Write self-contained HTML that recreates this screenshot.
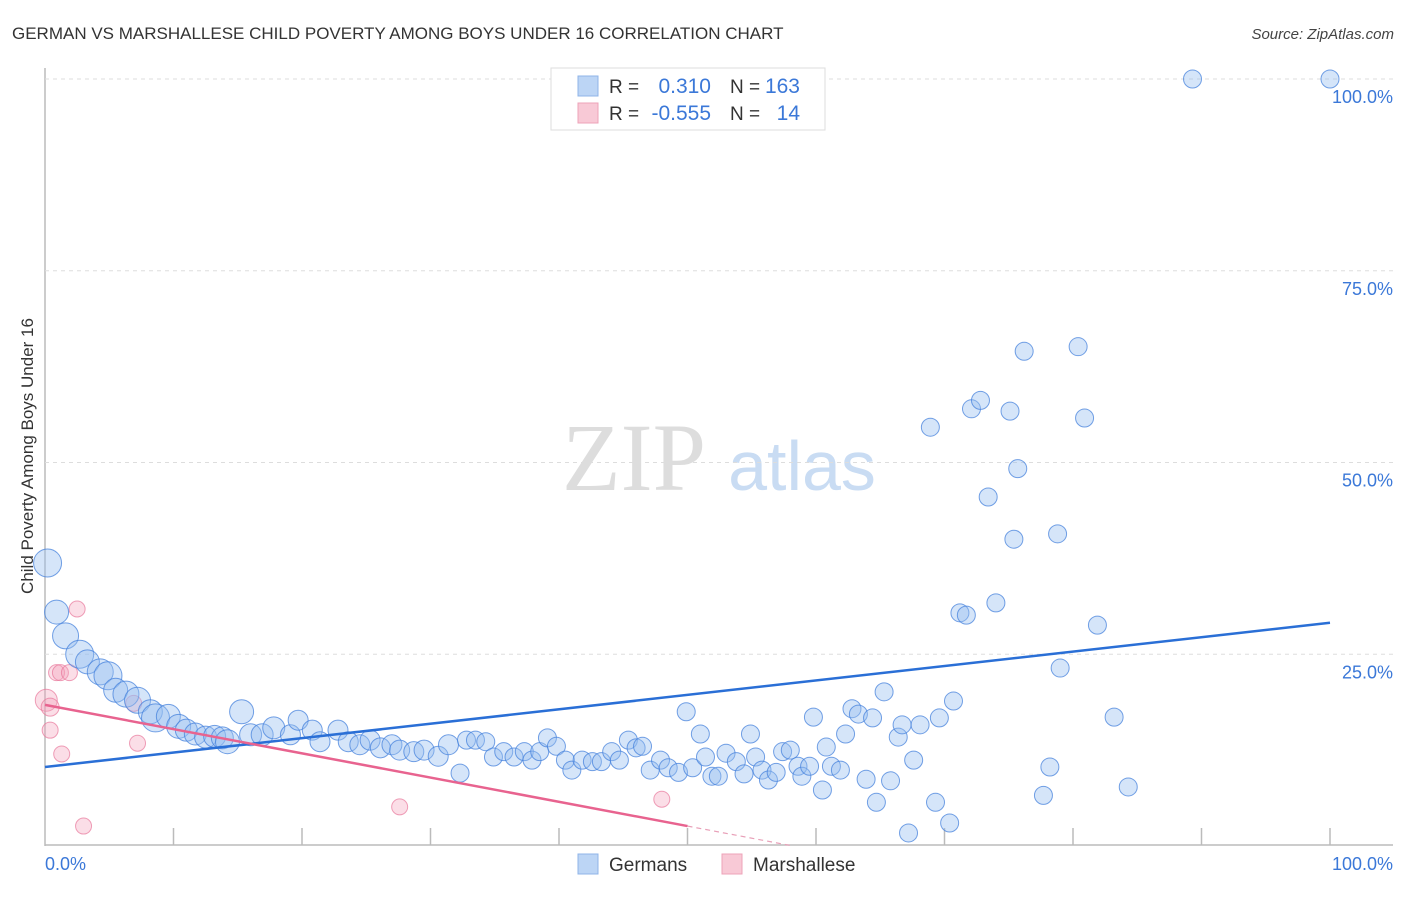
<!DOCTYPE html>
<html><head><meta charset="utf-8"><style>
body{margin:0;background:#fff;width:1406px;height:892px;overflow:hidden;font-family:"Liberation Sans",sans-serif}
</style></head><body>
<svg width="1406" height="892" xmlns="http://www.w3.org/2000/svg" font-family="Liberation Sans, sans-serif">
<text x="12" y="39" font-size="17" fill="#333">GERMAN VS MARSHALLESE CHILD POVERTY AMONG BOYS UNDER 16 CORRELATION CHART</text>
<text x="1394" y="39" font-size="15" fill="#444" font-style="italic" text-anchor="end">Source: ZipAtlas.com</text>
<text transform="translate(33,456) rotate(-90)" font-size="17" fill="#333" text-anchor="middle">Child Poverty Among Boys Under 16</text>
<g>
<text x="634" y="490" font-size="96" font-family="Liberation Serif, serif" fill="#ddd" text-anchor="middle">ZIP</text>
<text x="802" y="490" font-size="70" fill="#c9dcf3" text-anchor="middle">atlas</text>
</g>
<g id="grid"></g>
<g id="marks"></g>
<g>
<rect x="551" y="68" width="274" height="62" fill="#fff" stroke="#ddd"/>
<rect x="578" y="76" width="20" height="20" fill="#bcd5f5" stroke="#8fb4e8"/>
<rect x="578" y="103" width="20" height="20" fill="#f8c9d6" stroke="#eea3b8"/>
<text x="609" y="93" font-size="19" fill="#333">R =</text><text x="711" y="93" font-size="21" fill="#3b78d8" text-anchor="end">0.310</text>
<text x="730" y="93" font-size="19" fill="#333">N =</text><text x="800" y="93" font-size="21" fill="#3b78d8" text-anchor="end">163</text>
<text x="609" y="120" font-size="19" fill="#333">R =</text><text x="711" y="120" font-size="21" fill="#3b78d8" text-anchor="end">-0.555</text>
<text x="730" y="120" font-size="19" fill="#333">N =</text><text x="800" y="120" font-size="21" fill="#3b78d8" text-anchor="end">14</text>
</g>
<g>
<rect x="578" y="854" width="20" height="20" fill="#bcd5f5" stroke="#8fb4e8"/>
<text x="609" y="871" font-size="19" fill="#333">Germans</text>
<rect x="722" y="854" width="20" height="20" fill="#f8c9d6" stroke="#eea3b8"/>
<text x="753" y="871" font-size="19" fill="#333">Marshallese</text>
</g>
</svg>
<script>
const yTicks=[25,50,75,100];
const yTickLabels=["25.0%","50.0%","75.0%","100.0%"];
const xTicks=[10,20,30,40,50,60,70,80,90,100];
const gerX=[0.2,0.9,1.6,2.7,3.3,4.3,4.9,5.5,6.3,7.2,8.2,8.6,9.6,10.4,11.0,11.7,12.5,13.2,13.8,14.2,15.3,16.0,16.9,17.8,19.1,19.7,20.8,21.4,22.8,23.6,24.5,25.3,26.1,27.0,27.6,28.7,29.5,30.6,31.4,32.3,32.8,33.5,34.3,34.9,35.7,36.5,37.3,37.9,38.5,39.1,39.8,40.5,41.0,41.8,42.6,43.3,44.1,44.7,45.4,46.0,46.5,47.1,47.9,48.5,49.3,49.9,50.4,51.0,51.4,51.9,52.4,53.0,53.8,54.4,54.9,55.3,55.8,56.3,56.9,57.4,58.0,58.6,58.9,59.5,59.8,60.5,60.8,61.2,61.9,62.3,62.8,63.3,63.9,64.4,64.7,65.3,65.8,66.4,66.7,67.2,67.6,68.1,68.9,69.3,69.6,70.4,70.7,71.2,71.7,72.1,72.8,73.4,74.0,75.1,75.4,75.7,76.2,77.7,78.2,78.8,79.0,80.4,80.9,81.9,83.2,84.3,89.3,100];
const gerY=[36.9,30.5,27.4,25.0,24.0,22.7,22.2,20.3,19.8,19.0,17.5,16.7,16.9,15.6,15.1,14.6,14.2,14.3,14.1,13.6,17.5,14.5,14.5,15.4,14.5,16.4,15.1,13.6,15.1,13.6,13.2,13.8,12.8,13.2,12.5,12.3,12.5,11.7,13.2,9.5,13.8,13.8,13.6,11.6,12.3,11.6,12.3,11.2,12.3,14.1,13.0,11.2,9.9,11.2,11.0,11.0,12.3,11.2,13.8,12.8,13.0,9.9,11.2,10.2,9.6,17.5,10.2,14.6,11.6,9.1,9.1,12.1,11.0,9.4,14.6,11.6,9.9,8.6,9.6,12.3,12.5,10.4,9.1,10.4,16.8,7.3,12.9,10.4,9.9,14.6,17.9,17.2,8.7,16.7,5.7,20.1,8.5,14.2,15.8,1.7,11.2,15.8,54.6,5.7,16.7,3.0,18.9,30.4,30.1,57.0,58.1,45.5,31.7,56.7,40.0,49.2,64.5,6.6,10.3,40.7,23.2,65.1,55.8,28.8,16.8,7.7,100,100];
const gerW=[14,12,13,14,12,13,14,12,13,13,12,14,12,12,11,11,11,11,11,12,12,11,11,11,10,10,10,10,10,10,10,10,10,10,10,10,10,10,10,9,9,9,9,9,9,9,9,9,9,9,9,9,9,9,9,9,9,9,9,9,9,9,9,9,9,9,9,9,9,9,9,9,9,9,9,9,9,9,9,9,9,9,9,9,9,9,9,9,9,9,9,9,9,9,9,9,9,9,9,9,9,9,9,9,9,9,9,9,9,9,9,9,9,9,9,9,9,9,9,9,9,9,9,9,9,9,9,9,9];
const marX=[0.1,0.4,0.4,0.9,1.2,1.3,1.9,2.5,3.0,7.2,6.9,27.6,48.0];
const marY=[19.0,18.1,15.1,22.6,22.6,12.0,22.6,30.9,2.6,13.4,18.6,5.1,6.1];
const marW=[11,9,8,8,8,8,8,8,8,8,8,8,8];
const gerTrend=[10.3,29.1];
const marTrend=[18.4,2.6];
const NS="http://www.w3.org/2000/svg";
const X0=45,X1=1330,Y0=846,Y100=79;
const sx=v=>X0+(X1-X0)*v/100, sy=v=>Y0-(Y0-Y100)*v/100;
function mk(tag,attrs,parent){const e=document.createElementNS(NS,tag);for(const k in attrs)e.setAttribute(k,attrs[k]);document.getElementById(parent).appendChild(e);return e;}
let e;
e=mk('line',{x1:45,y1:68,x2:45,y2:846,stroke:'#bbb','stroke-width':1.5},'grid');


e=mk('line',{x1:45,y1:845,x2:1393,y2:845,stroke:'#bbb','stroke-width':1.5},'grid');


yTicks.forEach((t,i)=>{
 e=mk('line',{x1:45,y1:sy(t),x2:1393,y2:sy(t),stroke:'#ddd','stroke-dasharray':'4,4'},'grid');
 
 
 e=mk('text',{x:1393,y:sy(t)+24,'font-size':18,fill:'#3b78d8','text-anchor':'end'},'grid');e.textContent=yTickLabels[i];
 
 
});
xTicks.forEach(t=>{
 e=mk('line',{x1:sx(t),y1:828,x2:sx(t),y2:845,stroke:'#bbb','stroke-width':1.5},'grid');
 
 
});
e=mk('text',{x:45,y:870,'font-size':18,fill:'#3b78d8'},'grid');e.textContent='0.0%';


e=mk('text',{x:1393,y:870,'font-size':18,fill:'#3b78d8','text-anchor':'end'},'grid');e.textContent='100.0%';


marX.forEach((x,i)=>{
 e=mk('circle',{cx:sx(x),cy:sy(marY[i]),r:marW[i],fill:'rgba(244,160,185,0.35)',stroke:'rgba(232,120,155,0.7)'},'marks');
 
 
});
gerX.forEach((x,i)=>{
 e=mk('circle',{cx:sx(x),cy:sy(gerY[i]),r:gerW[i],fill:'rgba(150,190,240,0.4)',stroke:'rgba(70,130,220,0.75)'},'marks');
 
 
});
e=mk('line',{x1:sx(0),y1:sy(gerTrend[0]),x2:sx(100),y2:sy(gerTrend[1]),stroke:'#2a6fd6','stroke-width':2.5},'marks');


const mAt=x=>marTrend[0]+(marTrend[1]-marTrend[0])*x/50;
e=mk('line',{x1:sx(0),y1:sy(mAt(0)),x2:sx(50),y2:sy(mAt(50)),stroke:'#e8638f','stroke-width':2.5},'marks');


const xz=50*marTrend[0]/(marTrend[0]-marTrend[1]);
e=mk('line',{x1:sx(50),y1:sy(mAt(50)),x2:sx(xz),y2:sy(0),stroke:'#e8a0b8','stroke-width':1.2,'stroke-dasharray':'5,4'},'marks');


</script>
</body></html>
